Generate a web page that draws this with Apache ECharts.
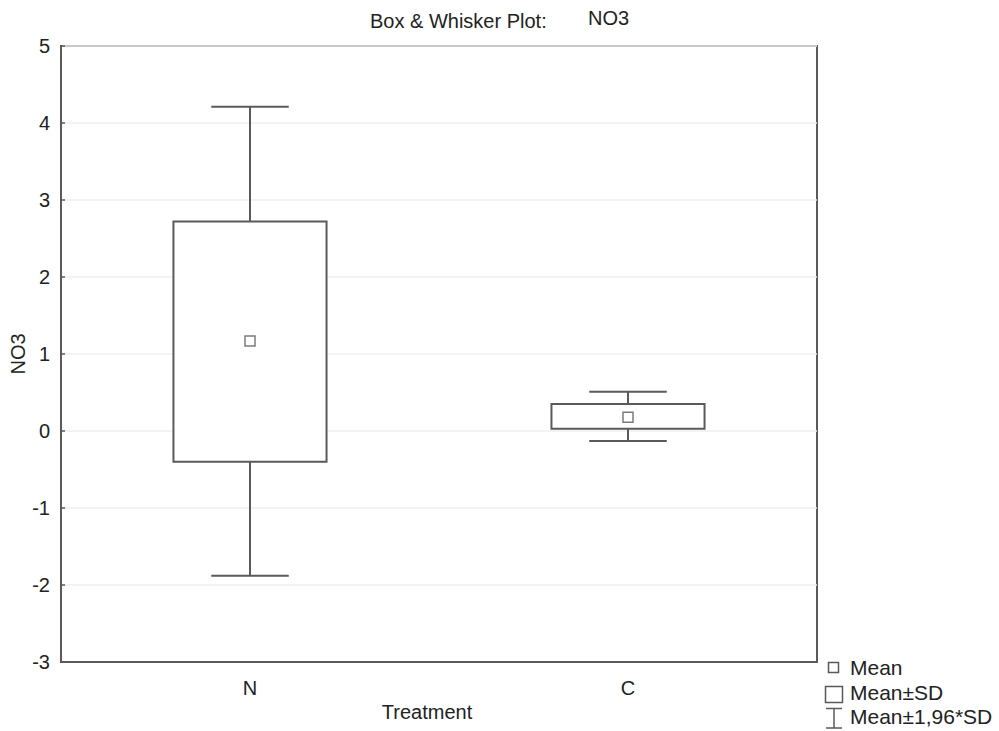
<!DOCTYPE html>
<html>
<head>
<meta charset="utf-8">
<script src="https://cdn.jsdelivr.net/npm/echarts@6/dist/echarts.min.js"></script>
<style>html,body{margin:0;padding:0;background:#fff}#c{width:999px;height:731px}</style>
</head>
<body>
<div id="c"></div>
<script>
var categories = ['N', 'C'];
var means = [1.17, 0.18];
var sdLow = [-0.40, 0.03];
var sdHigh = [2.72, 0.35];
var ciLow = [-1.88, -0.13];
var ciHigh = [4.21, 0.51];
var yTicks = [-3, -2, -1, 0, 1, 2, 3, 4, 5];

var lineCol = '#5a5a5a';
var font = '"Liberation Sans", Arial, sans-serif';
var fs = 20;

var boxData = categories.map(function (c, i) {
  return [i, sdLow[i], sdHigh[i], ciLow[i], ciHigh[i]];
});
var meanData = categories.map(function (c, i) { return [i, means[i]]; });

var chart = echarts.init(document.getElementById('c'), null, { renderer: 'svg' });
chart.setOption({
  animation: false,
  backgroundColor: '#fff',
  textStyle: { fontFamily: font },
  grid: { left: 61, right: 182, top: 46, bottom: 69, containLabel: false, outerBoundsMode: 'none', show: true, borderColor: lineCol, borderWidth: 2, backgroundColor: 'transparent' },
  xAxis: {
    type: 'category',
    data: categories,
    boundaryGap: true,
    name: 'Treatment',
    nameLocation: 'middle',
    nameGap: 40,
    nameMoveOverlap: false,
    nameTextStyle: { fontSize: fs, color: '#222', fontFamily: font, padding: [0, 24, 0, 0] },
    axisLine: { onZero: false, lineStyle: { color: lineCol, width: 2 } },
    axisTick: { inside: true, length: 4, alignWithLabel: true, lineStyle: { color: lineCol, width: 1.5 } },
    axisLabel: { fontSize: fs, color: '#222', margin: 16, fontFamily: font },
    splitLine: { show: false }
  },
  yAxis: {
    type: 'value',
    min: yTicks[0],
    max: yTicks[yTicks.length - 1],
    interval: 1,
    name: 'NO3',
    nameLocation: 'middle',
    nameGap: 33,
    nameMoveOverlap: false,
    nameRotate: 90,
    nameTextStyle: { fontSize: fs, color: '#222', fontFamily: font },
    axisLine: { show: true, onZero: false, lineStyle: { color: lineCol, width: 2 } },
    axisTick: { show: true, inside: true, length: 4, lineStyle: { color: lineCol, width: 1.5 } },
    axisLabel: { fontSize: fs, color: '#222', margin: 11, fontFamily: font },
    splitLine: { show: true, lineStyle: { color: '#efefef', width: 1.5 } }
  },
  title: {
    text: 'Box & Whisker Plot:',
    left: 365,
    top: 6,
    textStyle: { fontSize: fs, fontWeight: 'normal', color: '#222', fontFamily: font }
  },
  graphic: [
    { type: 'text', left: 588, top: 8, style: { text: 'NO3', fontSize: fs, fill: '#222', fontFamily: font } },
    // legend
    { type: 'rect', shape: { x: 828.5, y: 662.5, width: 10, height: 10 }, style: { fill: '#fff', stroke: lineCol, lineWidth: 1.5 } },
    { type: 'text', left: 850, top: 657, style: { text: 'Mean', fontSize: 21, fill: '#222', fontFamily: font } },
    { type: 'rect', shape: { x: 825.5, y: 686.5, width: 17, height: 16 }, style: { fill: '#fff', stroke: lineCol, lineWidth: 1.5 } },
    { type: 'text', left: 850, top: 682, style: { text: 'Mean±SD', fontSize: 21, fill: '#222', fontFamily: font } },
    { type: 'polyline', shape: { points: [[826, 708.5], [842, 708.5]] }, style: { stroke: lineCol, lineWidth: 1.5 } },
    { type: 'polyline', shape: { points: [[834, 708.5], [834, 728]] }, style: { stroke: lineCol, lineWidth: 1.5 } },
    { type: 'polyline', shape: { points: [[826, 728], [842, 728]] }, style: { stroke: lineCol, lineWidth: 1.5 } },
    { type: 'text', left: 850, top: 706, style: { text: 'Mean±1,96*SD', fontSize: 21, fill: '#222', fontFamily: font } }
  ],
  series: [
    {
      type: 'custom',
      data: boxData,
      encode: { x: 0, y: [1, 2, 3, 4] },
      renderItem: function (params, api) {
        var i = api.value(0);
        var band = api.size([1, 0])[0];
        var c = api.coord([i, 0])[0];
        var bw = band * 0.405;
        var cw = band * 0.205;
        var yLo = api.coord([i, api.value(1)])[1];
        var yHi = api.coord([i, api.value(2)])[1];
        var yMin = api.coord([i, api.value(3)])[1];
        var yMax = api.coord([i, api.value(4)])[1];
        var st = { stroke: lineCol, lineWidth: 2, fill: null };
        return {
          type: 'group',
          children: [
            { type: 'line', shape: { x1: c, y1: yHi, x2: c, y2: yMax }, style: st },
            { type: 'line', shape: { x1: c, y1: yLo, x2: c, y2: yMin }, style: st },
            { type: 'line', shape: { x1: c - cw / 2, y1: yMax, x2: c + cw / 2, y2: yMax }, style: st },
            { type: 'line', shape: { x1: c - cw / 2, y1: yMin, x2: c + cw / 2, y2: yMin }, style: st },
            { type: 'rect', shape: { x: c - bw / 2, y: yHi, width: bw, height: yLo - yHi }, style: { stroke: lineCol, lineWidth: 2, fill: '#fff' } }
          ]
        };
      },
      z: 2
    },
    {
      type: 'scatter',
      data: meanData,
      symbol: 'rect',
      symbolSize: 10,
      itemStyle: { color: '#fff', borderColor: lineCol, borderWidth: 1.5 },
      z: 3
    }
  ]
});
</script>
</body>
</html>
